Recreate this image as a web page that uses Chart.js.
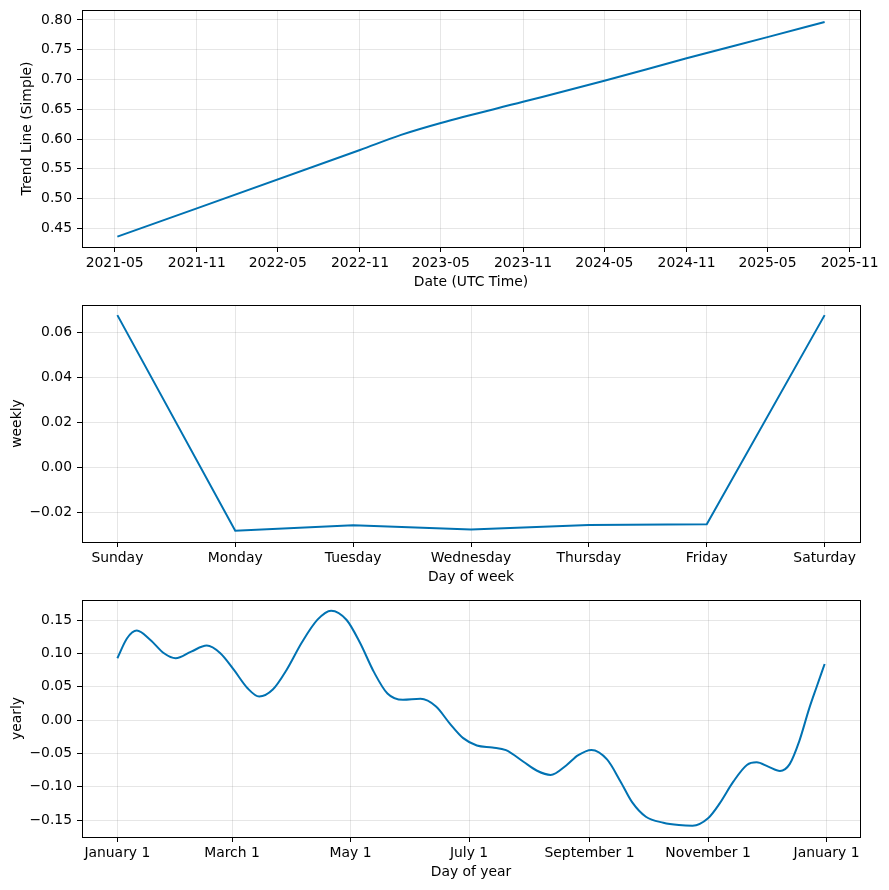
<!DOCTYPE html>
<html>
<head>
<meta charset="utf-8">
<script src="https://cdn.jsdelivr.net/npm/chart.js@4.4.1/dist/chart.umd.min.js"></script>
<style>
  body { margin: 0; background: #fff; }
  .panel { position: absolute; left: 0; width: 889px; height: 296px; }
</style>
</head>
<body>
<div class="panel" style="top:0px"><canvas id="trendChart" width="889" height="296"></canvas></div>
<div class="panel" style="top:295px"><canvas id="weeklyChart" width="889" height="296"></canvas></div>
<div class="panel" style="top:590px"><canvas id="yearlyChart" width="889" height="296"></canvas></div>
<script>
// trend component
const trendDates = ['2021-05-07', '2022-11-01', '2023-02-01', '2023-05-01',
                    '2023-11-01', '2024-05-01', '2024-11-01', '2025-05-01', '2025-09-06'];
const trendValues = [0.436, 0.5815, 0.607, 0.627, 0.6625, 0.698, 0.7356, 0.7712, 0.7966];
const trendTickLabels = ['2021-05', '2021-11', '2022-05', '2022-11', '2023-05',
                         '2023-11', '2024-05', '2024-11', '2025-05', '2025-11'];
const trendYTicks = [0.45, 0.50, 0.55, 0.60, 0.65, 0.70, 0.75, 0.80];

// weekly component
const weekDays = ['Sunday', 'Monday', 'Tuesday', 'Wednesday', 'Thursday', 'Friday', 'Saturday'];
const weeklyValues = [0.0676, -0.0282, -0.0258, -0.0277, -0.0257, -0.0253, 0.0676];
const weeklyYTicks = [-0.02, 0.00, 0.02, 0.04, 0.06];

// yearly component (day of year)
const yearlyDays = [0, 5, 10, 17, 24, 30, 38, 46, 53, 60, 67, 73, 80, 87, 95, 103, 110, 118,
                    125, 132, 139, 147, 156, 164, 171, 178, 185, 193, 200, 209, 216, 223, 231,
                    237, 244, 252, 259, 265, 272, 281, 289, 296, 304, 310, 317, 324, 329, 335,
                    341, 346, 351, 356, 360, 364];
const yearlyValues = [0.093, 0.123, 0.1345, 0.1205, 0.1005, 0.093, 0.103, 0.112, 0.1005, 0.0754,
                      0.048, 0.0355, 0.046, 0.075, 0.117, 0.151, 0.1645, 0.1505, 0.1155, 0.0725,
                      0.040, 0.0305, 0.032, 0.0205, -0.0047, -0.027, -0.038, -0.0410, -0.0450,
                      -0.0625, -0.076, -0.0823, -0.068, -0.053, -0.0448, -0.059, -0.0924, -0.1235,
                      -0.145, -0.154, -0.1575, -0.1585, -0.1474, -0.125, -0.0924, -0.0673, -0.0633,
                      -0.0698, -0.0763, -0.0660, -0.031, 0.017, 0.051, 0.0844];
const yearlyTickLabels = ['January 1', 'March 1', 'May 1', 'July 1', 'September 1', 'November 1', 'January 1'];
const yearlyTickDays = [0, 59, 120, 181, 243, 304, 365];
const yearlyYTicks = [-0.15, -0.10, -0.05, 0.00, 0.05, 0.10, 0.15];

const FONT = { family: 'DejaVu Sans', size: 13.9 };
const LINE_COLOR = '#0072B2';
const GRID_COLOR = 'rgba(128,128,128,0.2)';

function toMs(s) {
    const p = s.split('-').map(Number);
    return Date.UTC(p[0], p[1] - 1, p[2] || 1);
}

function fmt(v) {
    const s = v.toFixed(2);
    return s.startsWith('-') ? '\u2212' + s.slice(1) : s;
}

// matplotlib style box around the plot area
const framePlugin = {
    id: 'frame',
    afterDraw(chart) {
        const a = chart.chartArea;
        const c = chart.ctx;
        c.save();
        c.strokeStyle = '#000';
        c.lineWidth = 1;
        c.strokeRect(a.left + 0.5, a.top + 0.5, a.right - a.left, a.bottom - a.top);
        c.restore();
    }
};

function gridOpts() {
    return { color: GRID_COLOR, lineWidth: 1, tickLength: 5, tickColor: '#000', tickWidth: 1 };
}

function xScale(min, max, tickValues, labels, title) {
    return {
        type: 'linear',
        min: min,
        max: max,
        afterBuildTicks: s => { s.ticks = tickValues.map(v => ({ value: v })); },
        afterFit: s => { s.height = 49; s.paddingLeft = 0; s.paddingRight = 0; },
        ticks: {
            font: FONT, color: '#000', padding: 3, maxRotation: 0, autoSkip: false,
            callback: (v, i) => labels[i]
        },
        grid: gridOpts(),
        border: { display: false },
        title: { display: true, text: title, font: FONT, color: '#000', padding: { top: 0, bottom: 5.6 } }
    };
}

function yScale(min, max, tickValues, title, titlePad) {
    return {
        type: 'linear',
        min: min,
        max: max,
        afterBuildTicks: s => { s.ticks = tickValues.map(v => ({ value: v })); },
        afterFit: s => { s.width = 82; s.paddingTop = 0; s.paddingBottom = 0; },
        ticks: { font: FONT, color: '#000', padding: 5, callback: v => fmt(v) },
        grid: gridOpts(),
        border: { display: false },
        title: { display: true, text: title, font: FONT, color: '#000', padding: { top: titlePad, bottom: 0 } }
    };
}

function makeChart(id, points, xOpts, yOpts, smooth) {
    new Chart(document.getElementById(id), {
        type: 'line',
        data: {
            datasets: [{
                data: points,
                borderColor: LINE_COLOR,
                borderWidth: 2,
                pointRadius: 0,
                fill: false,
                cubicInterpolationMode: smooth ? 'monotone' : 'default',
                tension: 0
            }]
        },
        options: {
            responsive: false,
            animation: false,
            devicePixelRatio: 1,
            layout: { padding: { top: 10, right: 29, left: 0, bottom: 0 } },
            plugins: { legend: { display: false }, tooltip: { enabled: false } },
            scales: { x: xOpts, y: yOpts }
        },
        plugins: [framePlugin]
    });
}

// Trend
const trendPoints = trendDates.map((d, i) => ({ x: toMs(d), y: trendValues[i] }));
const trendSpan = toMs(trendDates[trendDates.length - 1]) - toMs(trendDates[0]);
makeChart('trendChart', trendPoints,
    xScale(toMs(trendDates[0]) - trendSpan * 0.05, toMs(trendDates[trendDates.length - 1]) + trendSpan * 0.05,
           trendTickLabels.map(toMs), trendTickLabels, 'Date (UTC Time)'),
    yScale(0.4186, 0.8168, trendYTicks, 'Trend Line (Simple)', 19),
    true);

// Weekly
const weeklyPoints = weeklyValues.map((v, i) => ({ x: i, y: v }));
makeChart('weeklyChart', weeklyPoints,
    xScale(-0.3, 6.3, weekDays.map((d, i) => i), weekDays, 'Day of week'),
    yScale(-0.0332, 0.0721, weeklyYTicks, 'weekly', 9),
    false);

// Yearly
const yearlyPoints = yearlyDays.map((d, i) => ({ x: d, y: yearlyValues[i] }));
makeChart('yearlyChart', yearlyPoints,
    xScale(-18.2, 382.2, yearlyTickDays, yearlyTickLabels, 'Day of year'),
    yScale(-0.1755, 0.1805, yearlyYTicks, 'yearly', 9),
    true);
</script>
</body>
</html>
